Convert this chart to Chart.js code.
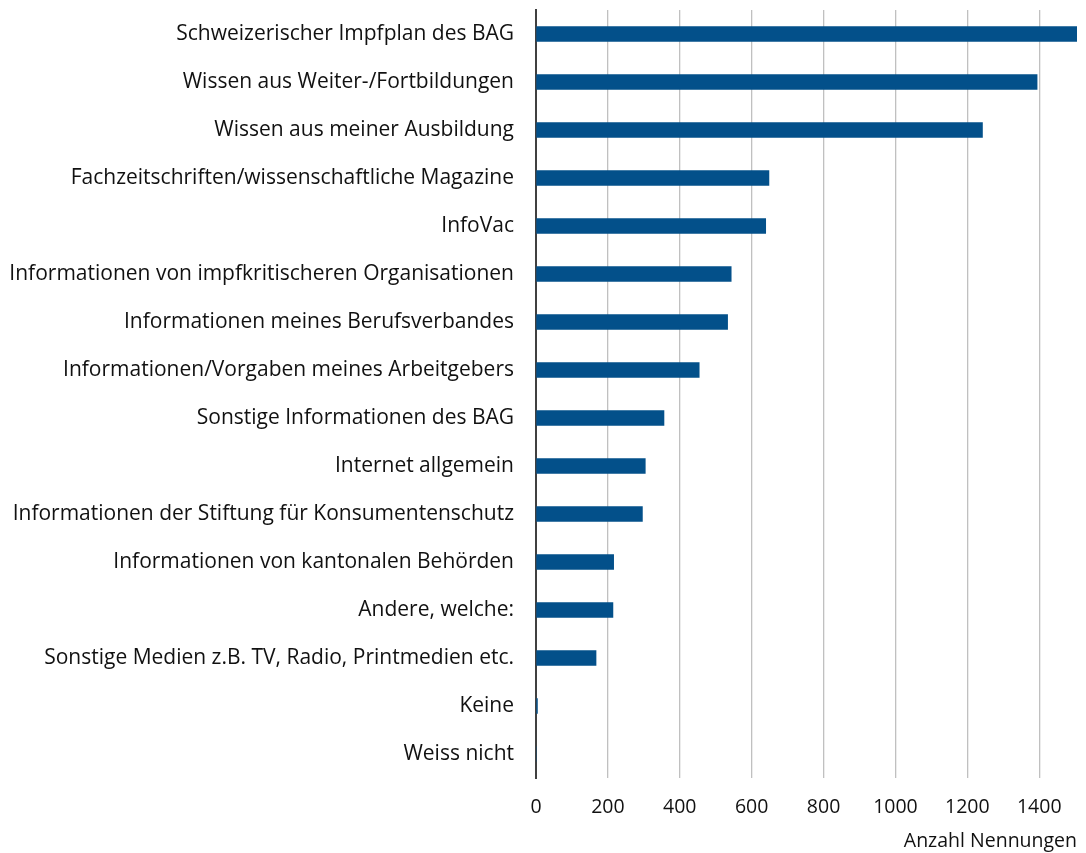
<!DOCTYPE html>
<html>
<head>
<meta charset="utf-8">
<script src="https://cdn.jsdelivr.net/npm/chart.js@4/dist/chart.umd.min.js"></script>
<style>
  html, body { margin: 0; padding: 0; background: #fff; }
  #chart { display: block; }
</style>
</head>
<body>
<canvas id="chart" width="1086" height="853"></canvas>
<script>
// Informationsquellen, Anzahl Nennungen
const categories = [
  "Schweizerischer Impfplan des BAG",
  "Wissen aus Weiter-/Fortbildungen",
  "Wissen aus meiner Ausbildung",
  "Fachzeitschriften/wissenschaftliche Magazine",
  "InfoVac",
  "Informationen von impfkritischeren Organisationen",
  "Informationen meines Berufsverbandes",
  "Informationen/Vorgaben meines Arbeitgebers",
  "Sonstige Informationen des BAG",
  "Internet allgemein",
  "Informationen der Stiftung für Konsumentenschutz",
  "Informationen von kantonalen Behörden",
  "Andere, welche:",
  "Sonstige Medien z.B. TV, Radio, Printmedien etc.",
  "Keine",
  "Weiss nicht"
];
const counts = [1505, 1394, 1242, 648, 639, 543, 533, 454, 356, 304, 296, 216, 214, 167, 4, 0];
const xTicks = [0, 200, 400, 600, 800, 1000, 1200, 1400];
const xMax = 1505;

const fontFamily = "'Open Sans', sans-serif";

new Chart(document.getElementById("chart"), {
  type: "bar",
  data: {
    labels: categories,
    datasets: [{
      label: "Anzahl Nennungen",
      data: counts,
      backgroundColor: "#03508a",
      barThickness: 15
    }]
  },
  options: {
    indexAxis: "y",
    responsive: false,
    animation: false,
    layout: { padding: { top: 10, right: 9, left: 0, bottom: 0 } },
    plugins: {
      legend: { display: false },
      tooltip: { enabled: false }
    },
    scales: {
      x: {
        min: 0,
        max: xMax,
        afterBuildTicks: (scale) => {
          scale.ticks = xTicks.map(v => ({ value: v }));
        },
        afterFit: (scale) => { scale.height = 75; },
        grid: { color: "#c0c0c0", lineWidth: 1.3, drawTicks: false },
        border: { display: false },
        ticks: {
          padding: 18,
          color: "#111",
          font: { family: fontFamily, size: 19.5 },
          callback: (v) => String(v)
        },
        title: {
          display: true,
          text: "Anzahl Nennungen",
          align: "end",
          color: "#111",
          padding: { top: 2, bottom: 0 },
          font: { family: fontFamily, size: 19.5 }
        }
      },
      y: {
        afterFit: (scale) => {
          scale.width = 536;
          scale.paddingTop = 0;
          scale.paddingBottom = 0;
        },
        grid: { display: false, drawTicks: false },
        border: { display: true, color: "#404040", width: 2 },
        ticks: {
          padding: 22,
          color: "#111",
          autoSkip: false,
          font: { family: fontFamily, size: 21 }
        }
      }
    }
  }
});
</script>
</body>
</html>
